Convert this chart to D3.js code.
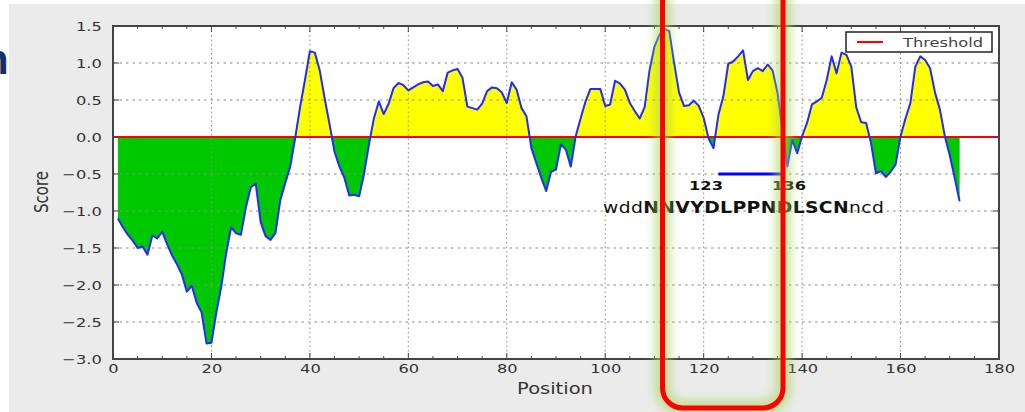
<!DOCTYPE html>
<html>
<head>
<meta charset="utf-8">
<script src="https://cdn.jsdelivr.net/npm/d3@7"></script>
<style>
  html, body { margin: 0; padding: 0; background: #ffffff; }
  svg { display: block; font-family: "DejaVu Sans", sans-serif; }
</style>
</head>
<body>
<svg id="chart" width="1025" height="412"></svg>
<script>
// Hydrophilicity / antigenicity score per residue, starting at residue 1
const firstPosition = 1;
const scores = [
  -1.10, -1.22, -1.32, -1.40, -1.50, -1.48, -1.59, -1.33, -1.37, -1.28,
  -1.45, -1.60, -1.72, -1.86, -2.09, -2.01, -2.24, -2.37, -2.79, -2.78,
  -2.37, -2.02, -1.57, -1.22, -1.30, -1.32, -0.95, -0.68, -0.63, -1.15,
  -1.34, -1.39, -1.30, -0.85, -0.62, -0.40, -0.02, 0.40, 0.77, 1.16,
  1.14, 0.90, 0.52, 0.17, -0.20, -0.40, -0.55, -0.79, -0.78, -0.80,
  -0.50, -0.10, 0.25, 0.48, 0.31, 0.45, 0.66, 0.73, 0.70, 0.63,
  0.67, 0.71, 0.74, 0.75, 0.69, 0.71, 0.62, 0.87, 0.90, 0.92,
  0.80, 0.41, 0.39, 0.37, 0.45, 0.62, 0.67, 0.66, 0.60, 0.46,
  0.74, 0.64, 0.39, 0.28, -0.15, -0.35, -0.55, -0.73, -0.47, -0.44,
  -0.10, -0.17, -0.40, 0.01, 0.25, 0.48, 0.65, 0.65, 0.65, 0.42,
  0.44, 0.76, 0.72, 0.64, 0.46, 0.35, 0.25, 0.40, 0.90, 1.22,
  1.38, 1.46, 1.43, 1.00, 0.60, 0.42, 0.43, 0.49, 0.42, 0.26,
  -0.02, -0.15, 0.30, 0.55, 0.99, 1.02, 1.09, 1.17, 0.77, 0.89,
  0.93, 0.89, 0.98, 0.90, 0.60, 0.10, -0.40, -0.04, -0.22, 0.01,
  0.19, 0.44, 0.48, 0.53, 0.77, 1.09, 0.86, 1.14, 1.11, 0.95,
  0.40, 0.20, 0.19, -0.08, -0.49, -0.46, -0.54, -0.47, -0.37, 0.01,
  0.25, 0.46, 0.95, 1.09, 1.04, 0.93, 0.60, 0.37, 0.01, -0.25,
  -0.55, -0.87
];
const threshold = 0;

const xTicks = [0, 20, 40, 60, 80, 100, 120, 140, 160, 180];
const xMinorTicks = d3.range(0, 181, 5);
const yTicks = [-3.0, -2.5, -2.0, -1.5, -1.0, -0.5, 0.0, 0.5, 1.0, 1.5];

// Highlighted epitope
const epitopeStart = 123;
const epitopeEnd = 136;
const epitopeLevel = -0.5;
const sequenceParts = [
  { text: "wdd", bold: false },
  { text: "NNVYDLPPNDLSCN", bold: true },
  { text: "ncd", bold: false }
];

const data = scores.map((v, i) => ({ pos: firstPosition + i, v }));

const svg = d3.select("#chart");
const W = 1025, H = 412;
const plot = { left: 113, right: 999, top: 26, bottom: 359 };
const stretch = "scale(1.25,1)";

const x = d3.scaleLinear().domain([0, 180]).range([plot.left, plot.right]);
const y = d3.scaleLinear().domain([-3, 1.5]).range([plot.bottom, plot.top]);

const defs = svg.append("defs");
defs.append("clipPath").attr("id", "above")
  .append("rect").attr("x", plot.left).attr("y", plot.top)
  .attr("width", plot.right - plot.left).attr("height", y(threshold) - plot.top);
defs.append("clipPath").attr("id", "below")
  .append("rect").attr("x", plot.left).attr("y", y(threshold))
  .attr("width", plot.right - plot.left).attr("height", plot.bottom - y(threshold));
const glow = defs.append("filter").attr("id", "glow")
  .attr("x", "-50%").attr("y", "-10%").attr("width", "200%").attr("height", "120%");
glow.append("feGaussianBlur").attr("stdDeviation", 5);

// page backdrop
svg.append("rect").attr("width", W).attr("height", H).attr("fill", "#ffffff");
svg.append("text").attr("x", -17).attr("y", 74)
  .attr("font-family", "'Liberation Sans', sans-serif").attr("font-weight", "bold")
  .attr("font-size", 42).attr("fill", "#14306a").text("n");
svg.append("rect").attr("x", 9).attr("y", 4).attr("width", W - 9).attr("height", H - 4)
  .attr("fill", "#ebebeb");

// plotting area
svg.append("rect").attr("x", plot.left).attr("y", plot.top)
  .attr("width", plot.right - plot.left).attr("height", plot.bottom - plot.top)
  .attr("fill", "#ffffff");

const area = d3.area()
  .x(d => x(d.pos))
  .y0(y(threshold))
  .y1(d => y(d.v));

svg.append("path").datum(data).attr("d", area)
  .attr("fill", "#ffff00").attr("clip-path", "url(#above)");
svg.append("path").datum(data).attr("d", area)
  .attr("fill", "#00c800").attr("clip-path", "url(#below)");

// grid
const grid = svg.append("g");
grid.selectAll("line.gx").data(xTicks.slice(1, -1)).join("line")
  .attr("x1", d => x(d)).attr("x2", d => x(d))
  .attr("y1", plot.top).attr("y2", plot.bottom)
  .attr("stroke", "#8a8a8a").attr("stroke-width", 1).attr("stroke-dasharray", "1.5,3");
grid.selectAll("line.gy").data(yTicks.slice(1, -1)).join("line")
  .attr("x1", plot.left).attr("x2", plot.right)
  .attr("y1", d => y(d)).attr("y2", d => y(d))
  .attr("stroke", "#8a8a8a").attr("stroke-width", 1).attr("stroke-dasharray", "2.5,4");

// threshold
svg.append("line")
  .attr("x1", plot.left).attr("x2", plot.right)
  .attr("y1", y(threshold)).attr("y2", y(threshold))
  .attr("stroke", "#ff0000").attr("stroke-width", 2);

// score line
svg.append("path").datum(data)
  .attr("d", d3.line().x(d => x(d.pos)).y(d => y(d.v)))
  .attr("fill", "none").attr("stroke", "#1f2bff").attr("stroke-width", 2)
  .attr("stroke-linejoin", "round");

// epitope marker
svg.append("line")
  .attr("x1", x(epitopeStart)).attr("x2", x(epitopeEnd))
  .attr("y1", y(epitopeLevel)).attr("y2", y(epitopeLevel))
  .attr("stroke", "#0000ff").attr("stroke-width", 3);
[[epitopeStart, 706], [epitopeEnd, 789]].forEach(([label, cx]) => {
  svg.append("text").attr("transform", `translate(${cx},190) ${stretch}`)
    .attr("text-anchor", "middle").attr("font-weight", "bold").attr("font-size", 13)
    .attr("fill", "#111").text(String(label));
});

const seq = svg.append("text").attr("transform", `translate(603,213) ${stretch}`)
  .attr("font-size", 15).attr("letter-spacing", 0.3).attr("fill", "#111");
sequenceParts.forEach(p => {
  seq.append("tspan").attr("font-weight", p.bold ? "bold" : "normal").text(p.text);
});

// ticks (inward)
const ticks = svg.append("g").attr("stroke", "#444").attr("stroke-width", 1);
xMinorTicks.forEach(t => {
  const len = t % 20 === 0 ? 6 : 3;
  ticks.append("line").attr("x1", x(t)).attr("x2", x(t))
    .attr("y1", plot.bottom).attr("y2", plot.bottom - len);
  ticks.append("line").attr("x1", x(t)).attr("x2", x(t))
    .attr("y1", plot.top).attr("y2", plot.top + len);
});
yTicks.forEach(t => {
  ticks.append("line").attr("x1", plot.left).attr("x2", plot.left + 6)
    .attr("y1", y(t)).attr("y2", y(t));
  ticks.append("line").attr("x1", plot.right).attr("x2", plot.right - 6)
    .attr("y1", y(t)).attr("y2", y(t));
});

// tick labels via d3 axes
const fmtY = d => d3.format(".1f")(d).replace("-", "\u2212");
const xAxis = svg.append("g").attr("transform", `translate(0,${plot.bottom})`)
  .call(d3.axisBottom(x).tickValues(xTicks).tickSize(0).tickPadding(5).tickFormat(d3.format("d")));
const yAxis = svg.append("g").attr("transform", `translate(${plot.left},0)`)
  .call(d3.axisLeft(y).tickValues(yTicks).tickSize(0).tickPadding(9).tickFormat(fmtY));
[xAxis, yAxis].forEach(a => {
  a.select(".domain").remove();
  a.selectAll("text").attr("font-size", 13).attr("fill", "#333")
    .attr("font-family", "'DejaVu Sans', sans-serif")
    .attr("transform", stretch);
});

// frame
svg.append("rect").attr("x", plot.left).attr("y", plot.top)
  .attr("width", plot.right - plot.left).attr("height", plot.bottom - plot.top)
  .attr("fill", "none").attr("stroke", "#444").attr("stroke-width", 2);

// axis titles
svg.append("text").attr("transform", "translate(555,394) scale(1.3,1)")
  .attr("text-anchor", "middle").attr("font-size", 15).attr("fill", "#333").text("Position");
svg.append("text").attr("transform", "translate(48,192) rotate(-90) scale(1,1.3)")
  .attr("text-anchor", "middle").attr("font-size", 15).attr("fill", "#333").text("Score");

// legend
const lg = svg.append("g");
lg.append("rect").attr("x", 846).attr("y", 32).attr("width", 146).attr("height", 20)
  .attr("fill", "#ffffff").attr("stroke", "#222").attr("stroke-width", 1.5);
lg.append("line").attr("x1", 857).attr("x2", 883).attr("y1", 42).attr("y2", 42)
  .attr("stroke", "#ff0000").attr("stroke-width", 2);
lg.append("text").attr("transform", `translate(903,47) ${stretch}`)
  .attr("font-size", 13).attr("fill", "#444").text("Threshold");

// highlight frame around the epitope region
const box = { x: 662.5, y: -40, w: 120.5, h: 448, r: 20 };
svg.append("rect").attr("x", box.x).attr("y", box.y).attr("width", box.w).attr("height", box.h)
  .attr("rx", box.r).attr("fill", "none").attr("stroke", "#a8d65a")
  .attr("stroke-width", 16).attr("opacity", 0.6).attr("filter", "url(#glow)");
svg.append("rect").attr("x", box.x).attr("y", box.y).attr("width", box.w).attr("height", box.h)
  .attr("rx", box.r).attr("fill", "none").attr("stroke", "#ff0000").attr("stroke-width", 5);
</script>
</body>
</html>
